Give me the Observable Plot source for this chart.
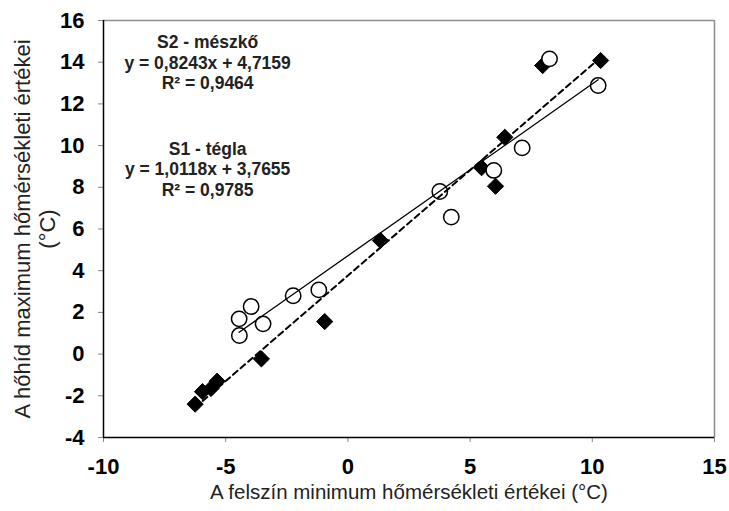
<!DOCTYPE html>
<html><head><meta charset="utf-8">
<script src="https://cdn.jsdelivr.net/npm/d3@7"></script>
<script src="https://cdn.jsdelivr.net/npm/@observablehq/plot@0.6"></script>
<style>body{margin:0;background:#fff}</style>
</head><body><div id="chart"></div>
<script>
// S2 - mészkő (open circles, solid trend line)
const s2Name = "S2 - mészkő";
const s2X = [8.25, 10.24, 7.13, 5.97, 3.76, 4.23, -1.19, -2.24, -3.96, -4.45, -3.47, -4.44];
const s2Y = [14.16, 12.88, 9.89, 8.81, 7.80, 6.57, 3.08, 2.80, 2.28, 1.69, 1.45, 0.89];
const s2Slope = 0.8243, s2Intercept = 4.7159, s2R2 = 0.9464;
// S1 - tégla (filled diamonds, dashed trend line)
const s1Name = "S1 - tégla";
const s1X = [7.97, 10.34, 6.42, 5.47, 6.04, 1.33, -0.95, -3.54, -5.35, -5.60, -5.95, -6.25];
const s1Y = [13.84, 14.08, 10.40, 8.94, 8.05, 5.45, 1.56, -0.23, -1.30, -1.65, -1.80, -2.40];
const s1Slope = 1.0118, s1Intercept = 3.7655, s1R2 = 0.9785;
// axes
const xTicks = [-10, -5, 0, 5, 10, 15];
const yTicks = [-4, -2, 0, 2, 4, 6, 8, 10, 12, 14, 16];
const xTitle = "A felszín minimum hőmérsékleti értékei (°C)";
const yTitle = "A hőhíd maximum hőmérsékleti értékei\n(°C)";

const toRows = (xs, ys) => xs.map((x, i) => ({x, y: ys[i]}));
const s2 = toRows(s2X, s2Y);
const s1 = toRows(s1X, s1Y);
const fitLine = (xs, m, b) => d3.extent(xs).map(x => ({x, y: m * x + b}));
const s2Line = fitLine(s2X, s2Slope, s2Intercept);
const s1Line = fitLine(s1X, s1Slope, s1Intercept);
const hu = v => String(v).replace(".", ",");
const eqLabel = (name, m, b, r2) => `${name}\ny = ${hu(m)}x + ${hu(b)}\nR² = ${hu(r2)}`;

const font = "Liberation Sans, Arial, Helvetica, sans-serif";
const chart = Plot.plot({
  width: 729, height: 511,
  marginLeft: 103, marginRight: 15, marginTop: 20, marginBottom: 74,
  style: {fontFamily: font, background: "white", color: "black"},
  x: {domain: [-10, 15]},
  y: {domain: [-4, 16]},
  marks: [
    Plot.ruleY([16], {stroke: "#8c8c8c", strokeWidth: 1.5}),
    Plot.ruleX([15], {stroke: "#8c8c8c", strokeWidth: 1.5}),
    Plot.axisX(xTicks, {tickSize: 5, tickPadding: 16, tickFormat: d => String(d), stroke: "#888", fill: "black", fontSize: 22, fontWeight: "bold", label: null}),
    Plot.axisY(yTicks, {tickSize: 5, tickPadding: 14, tickFormat: d => String(d), stroke: "#888", fill: "black", fontSize: 22, fontWeight: "bold", label: null}),
    Plot.ruleX([-10], {stroke: "black", strokeWidth: 1.5}),
    Plot.ruleY([-4], {stroke: "black", strokeWidth: 1.5}),
    Plot.dot(s1, {x: "x", y: "y", symbol: "diamond2", r: 7.3, fill: "black", stroke: "black", strokeWidth: 1}),
    Plot.dot(s2, {x: "x", y: "y", symbol: "circle", r: 7.7, fill: "white", stroke: "black", strokeWidth: 1.5}),
    Plot.line(s2Line, {x: "x", y: "y", stroke: "black", strokeWidth: 1.3}),
    Plot.line(s1Line, {x: "x", y: "y", stroke: "black", strokeWidth: 2, strokeDasharray: "6,4"}),
    Plot.text([eqLabel(s2Name, s2Slope, s2Intercept, s2R2)], {x: -5.74, y: 13.99, text: d => d, fontSize: 17.5, fontWeight: "bold", lineHeight: 1.17, textAnchor: "middle", lineAnchor: "middle", fill: "#222"}),
    Plot.text([eqLabel(s1Name, s1Slope, s1Intercept, s1R2)], {x: -5.74, y: 8.9, text: d => d, fontSize: 17.5, fontWeight: "bold", lineHeight: 1.17, textAnchor: "middle", lineAnchor: "middle", fill: "#222"}),
    Plot.text([xTitle], {frameAnchor: "bottom", dy: 55, text: d => d, fontSize: 20.5, lineAnchor: "middle", fill: "#222"}),
    Plot.text([yTitle], {frameAnchor: "left", dx: -69, rotate: -90, text: d => d, fontSize: 22, lineHeight: 1.13, lineAnchor: "middle", textAnchor: "middle", fill: "#222"})
  ]
});
document.getElementById("chart").append(chart);
</script>
</body></html>
